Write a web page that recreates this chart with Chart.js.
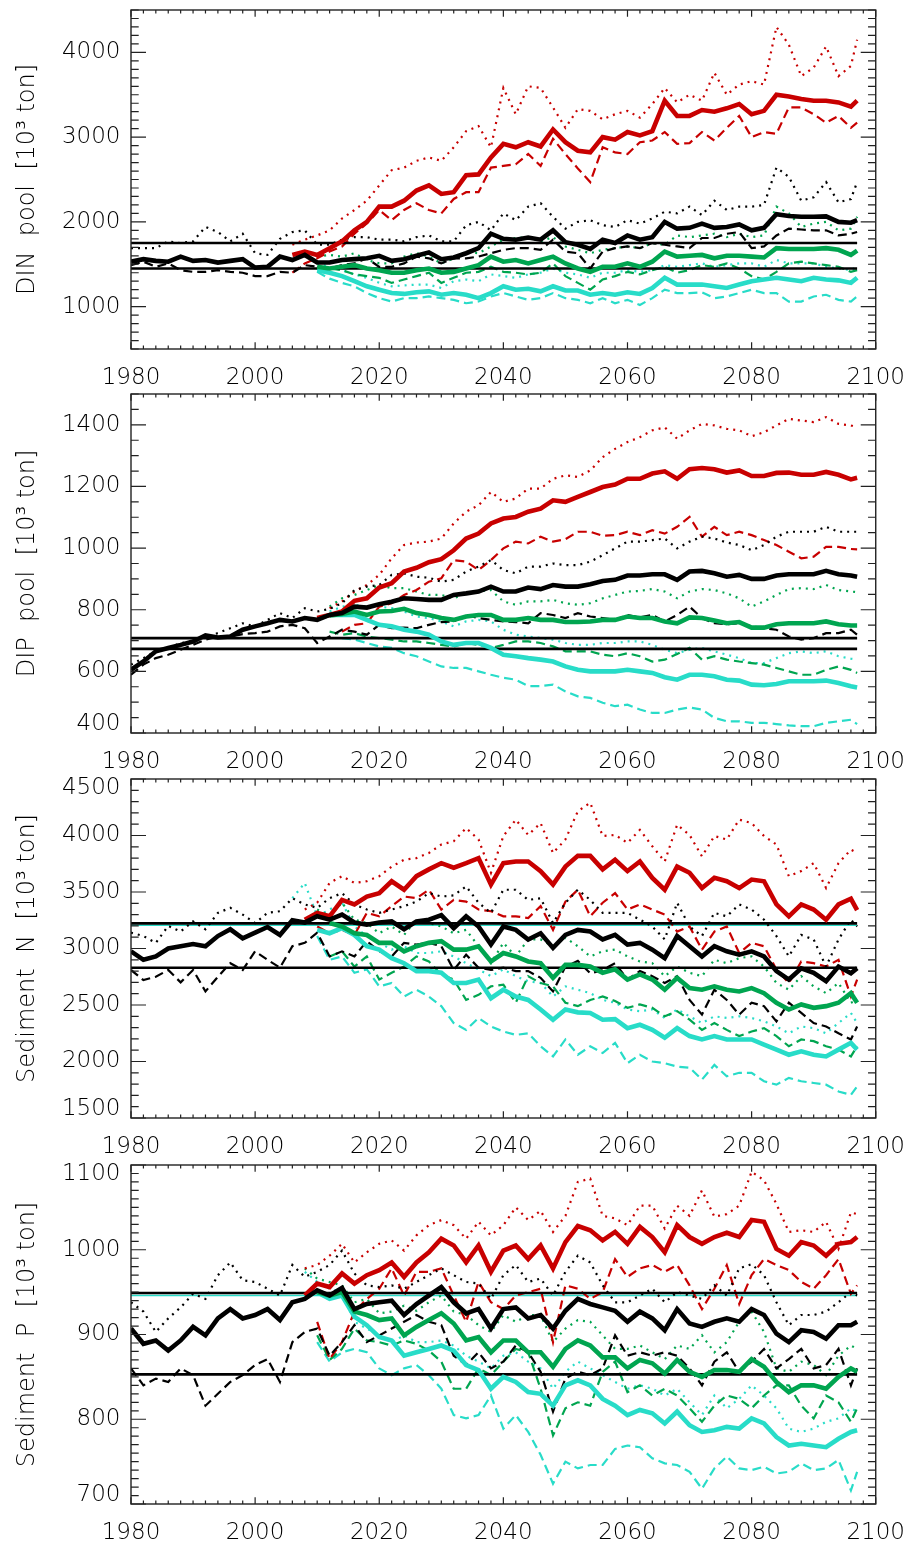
<!DOCTYPE html>
<html>
<head>
<meta charset="utf-8">
<script src="https://cdn.jsdelivr.net/npm/chart.js@4.4.1/dist/chart.umd.min.js"></script>
<style>
  body { margin: 0; background: #fff; width: 920px; height: 1548px; position: relative; overflow: hidden; }
  .panel { position: absolute; left: 0; width: 920px; height: 387px; }
</style>
</head>
<body>
<div class="panel" style="top:0px"><canvas id="din" width="920" height="387"></canvas></div>
<div class="panel" style="top:384px"><canvas id="dip" width="920" height="387"></canvas></div>
<div class="panel" style="top:769px"><canvas id="sedN" width="920" height="387"></canvas></div>
<div class="panel" style="top:1155px"><canvas id="sedP" width="920" height="387"></canvas></div>
<script>
// years for the full runs (black) and for the scenario runs (colours)
const years = [1980,1982,1984,1986,1988,1990,1992,1994,1996,1998,
  2000,2002,2004,2006,2008,2010,2012,2014,2016,2018,
  2020,2022,2024,2026,2028,2030,2032,2034,2036,2038,
  2040,2042,2044,2046,2048,2050,2052,2054,2056,2058,
  2060,2062,2064,2066,2068,2070,2072,2074,2076,2078,
  2080,2082,2084,2086,2088,2090,2092,2094,2096,2097];
const futYears = [2006,2008,2010,2012,2014,2016,2018,2020,2022,2024,2026,2028,2030,2032,
  2034,2036,2038,2040,2042,2044,2046,2048,2050,2052,2054,2056,2058,2060,
  2062,2064,2066,2068,2070,2072,2074,2076,2078,2080,2082,2084,2086,2088,
  2090,2092,2094,2096,2097];

// ---- DIN pool ----
const dinTicks = [1000, 2000, 3000, 4000];
const dinRefs = [1750, 1450];
const dinBlackSolid = [1530,1560,1540,1530,1590,1540,1550,1520,1540,1560,
  1460,1470,1590,1550,1610,1520,1520,1550,1560,1570,
  1600,1540,1560,1600,1640,1560,1580,1630,1690,1860,
  1800,1790,1815,1790,1900,1760,1730,1680,1790,1750,
  1840,1790,1820,2000,1920,1930,1980,1930,1940,1970,
  1900,1930,2090,2070,2060,2060,2065,2000,1990,2020];
const dinBlackDash = [1490,1530,1470,1510,1430,1410,1410,1430,1410,1400,
  1360,1360,1410,1400,1490,1470,1450,1490,1510,1570,
  1470,1470,1510,1590,1570,1510,1570,1570,1590,1630,
  1670,1690,1690,1670,1790,1650,1630,1450,1650,1690,
  1710,1690,1750,1730,1710,1690,1810,1810,1860,1880,
  1690,1710,1840,1920,1910,1900,1900,1840,1860,1880];
const dinBlackDot = [1690,1690,1690,1770,1750,1770,1940,1880,1770,1860,
  1630,1610,1800,1880,1900,1730,1730,1790,1820,1820,
  1790,1790,1770,1820,1840,1770,1770,1960,2000,1900,
  2100,2020,2180,2220,2060,1920,2000,2020,1960,1940,
  2020,1980,2040,2120,2100,2180,2080,2250,2140,2180,
  2180,2200,2640,2530,2250,2290,2470,2230,2270,2470];
const dinRedSolid = [1610,1650,1610,1690,1770,1900,2000,2180,2180,2250,2370,2430,2330,2350,
  2550,2560,2760,2920,2880,2940,2890,3090,2940,2840,2820,3000,2970,3060,
  3020,3070,3430,3250,3250,3320,3300,3340,3390,3270,3310,3500,3480,3450,
  3430,3430,3410,3360,3430];
const dinRedDash = [1400,1510,1570,1650,1710,1860,1980,2140,2020,2140,2220,2140,2100,2270,
  2350,2350,2640,2660,2680,2800,2660,2980,2800,2630,2470,2880,2820,2800,
  2940,2960,3060,2920,2930,3060,2960,3110,3250,3000,3060,3040,3350,3350,
  3270,3170,3250,3110,3170];
const dinRedDot = [1730,1790,1840,1900,2040,2140,2250,2430,2610,2640,2720,2760,2720,2880,
  3070,3130,2880,3580,3270,3600,3580,3350,3110,3330,3310,3210,3270,3310,
  3230,3390,3580,3410,3500,3430,3760,3500,3620,3660,3620,4300,4090,3720,
  3820,4070,3720,3840,4150];
const dinGreenSolid = [null,null,1470,1450,1470,1490,1450,1430,1400,1400,1430,1450,1400,1410,
  1450,1490,1590,1530,1550,1510,1550,1590,1510,1450,1410,1470,1470,1510,
  1470,1530,1650,1590,1600,1610,1570,1600,1600,1590,1580,1690,1680,1680,
  1680,1690,1670,1610,1660];
const dinGreenDash = [null,null,1470,1450,1430,1380,1360,1340,1280,1320,1360,1400,1280,1340,
  1400,1410,1470,1410,1400,1380,1400,1510,1360,1280,1200,1320,1360,1410,
  1380,1430,1470,1400,1430,1490,1470,1510,1450,1360,1320,1410,1510,1530,
  1510,1490,1470,1410,1430];
const dinGreenDot = [null,null,1590,1610,1590,1630,1550,1510,1510,1590,1630,1590,1510,1570,
  1650,1630,1710,1790,1810,1820,1770,1820,1710,1670,1630,1670,1690,1710,
  1690,1750,1730,1840,1820,1840,1860,1820,1860,1820,1840,2180,2100,1940,
  1980,2000,1900,1920,2060];
const dinCyanSolid = [null,null,1430,1400,1360,1300,1240,1200,1160,1150,1170,1180,1140,1160,
  1140,1100,1160,1240,1200,1210,1180,1240,1190,1190,1140,1160,1140,1170,
  1150,1220,1340,1260,1260,1260,1240,1220,1260,1300,1320,1340,1320,1300,
  1340,1320,1310,1280,1340];
const dinCyanDash = [null,null,1410,1330,1280,1240,1160,1100,1060,1100,1100,1120,1100,1080,
  1040,1060,1120,1160,1120,1080,1100,1160,1100,1080,1040,1100,1040,1080,
  1020,1100,1200,1160,1160,1170,1100,1120,1160,1200,1160,1160,1060,1060,
  1120,1140,1080,1060,1120];
const dinCyanDot = [null,null,1510,1470,1430,1380,1340,1280,1240,1250,1260,1260,1220,1300,
  1320,1300,1380,1360,1340,1380,1400,1450,1400,1380,1340,1400,1400,1430,
  1410,1430,1490,1470,1490,1510,1470,1490,1510,1510,1470,1550,1510,1510,
  1510,1470,1450,1430,1470];

// ---- DIP pool ----
const dipTicks = [400, 600, 800, 1000, 1200, 1400];
const dipRefs = [708, 673];
const dipBlackSolid = [605,632,665,676,686,697,717,710,713,735,
  746,756,767,762,773,767,783,789,810,807,
  818,826,837,835,832,832,848,853,859,875,
  859,859,872,867,880,875,875,883,893,897,
  911,911,915,915,897,924,926,918,907,913,
  900,900,911,915,915,915,926,915,911,907];
const dipBlackDash = [589,622,643,654,670,686,703,713,713,721,
  724,729,746,751,740,692,713,735,729,719,
  751,740,742,740,751,760,762,783,773,767,
  762,760,756,789,783,773,789,778,773,767,
  783,775,783,762,783,810,773,756,753,756,
  746,740,735,713,703,708,724,724,735,719];
const dipBlackDot = [622,643,665,676,692,697,713,724,740,756,
  746,767,789,773,805,794,803,821,864,875,
  880,913,918,907,904,891,897,924,940,961,
  929,918,940,940,950,945,945,956,977,999,
  1021,1021,1026,1031,999,1021,1037,1031,1018,1010,
  993,1010,1037,1053,1053,1053,1069,1053,1053,1053];
const dipRedSolid = [null,null,773,783,794,829,837,872,886,924,936,954,964,993,
  1031,1047,1080,1096,1101,1118,1128,1155,1150,1166,1182,1198,1206,1225,
  1225,1242,1249,1225,1256,1260,1256,1245,1252,1234,1234,1244,1245,1238,
  1238,1247,1238,1223,1228];
const dipRedDash = [null,null,null,null,729,751,756,810,821,848,864,891,902,961,
  956,929,961,999,1021,1015,1037,1021,1029,1053,1053,1040,1042,1053,
  1042,1058,1047,1069,1101,1037,1069,1042,1053,1042,1026,1010,988,967,
  972,1004,1004,997,996];
const dipRedDot = [null,null,null,805,827,859,880,913,967,1010,1018,1021,1031,1080,
  1118,1139,1182,1150,1161,1193,1193,1225,1236,1231,1252,1295,1322,1344,
  1360,1382,1392,1355,1382,1403,1398,1387,1382,1363,1376,1398,1419,1414,
  1409,1425,1403,1398,1392];
const dipGreenSolid = [null,null,null,781,786,794,783,794,796,803,789,783,773,767,
  778,783,783,767,767,773,767,767,760,760,762,767,767,778,
  773,773,762,756,775,773,765,756,760,742,742,753,756,756,
  756,762,753,749,749];
const dipGreenDash = [null,null,null,729,719,724,713,708,703,697,697,692,686,681,
  692,686,676,686,697,697,692,681,665,665,665,654,649,659,
  649,632,638,656,676,638,649,638,632,627,622,611,600,589,
  589,605,616,605,595];
const dipGreenDot = [null,null,null,810,837,848,864,880,870,870,859,848,848,837,
  853,859,864,827,816,827,827,832,821,816,821,837,848,859,
  861,867,859,837,859,867,864,853,837,810,827,848,867,870,
  867,880,864,859,857];
const dipCyanSolid = [null,null,null,783,783,783,767,751,746,735,729,719,697,686,
  692,692,676,654,649,643,638,632,616,605,600,600,600,605,
  600,595,581,573,589,589,584,573,570,557,555,559,568,568,
  568,570,562,552,548];
const dipCyanDash = [null,null,null,null,708,703,692,681,676,659,649,632,616,611,
  611,600,589,579,573,552,552,557,535,519,514,498,487,492,
  476,465,465,476,483,476,449,438,438,433,433,429,425,422,
  422,433,438,443,429];
const dipCyanDot = [null,null,null,794,810,816,810,810,805,794,778,773,762,746,
  762,767,762,735,719,713,708,703,692,686,686,692,692,697,
  697,686,670,659,670,676,665,654,643,627,627,643,659,665,
  659,665,649,641,638];

// ---- Sediment N ----
const sedNTicks = [1500, 2000, 2500, 3000, 3500, 4000, 4500];
const sedNRefs = [3222, 2830];
const sedNRefCyan = 3205;
const sedNBlackSolid = [2975,2900,2930,3000,3020,3040,3020,3110,3170,3090,
  3140,3190,3120,3250,3230,3285,3255,3300,3230,3210,
  3230,3240,3170,3240,3255,3295,3180,3285,3195,3035,
  3195,3165,3080,3135,3005,3120,3165,3150,3080,3120,
  3035,3050,2990,2915,3110,3020,2930,3020,2975,2945,
  2975,2930,2800,2725,2825,2785,2710,2840,2780,2825];
const sedNBlackDash = [2810,2720,2750,2810,2700,2810,2620,2750,2870,2810,
  2975,2900,2830,3020,3050,3140,2930,2975,2930,3065,
  2975,2930,3050,3035,3050,3020,2810,2945,2830,2810,
  2830,2800,2800,2740,2620,2840,2890,2780,2810,2870,
  2725,2800,2755,2695,2755,2545,2415,2635,2545,2415,
  2520,2490,2355,2520,2430,2340,2310,2250,2195,2310];
const sedNBlackDot = [3140,3110,3050,3200,3150,3240,3170,3315,3360,3300,
  3225,3315,3330,3445,3390,3360,3445,3490,3390,3345,
  3315,3345,3375,3415,3490,3460,3470,3550,3405,3315,
  3520,3520,3430,3445,3225,3405,3520,3430,3315,3315,
  3315,3255,3195,3080,3405,3195,3110,3315,3285,3390,
  3345,3255,3110,2930,3120,3080,2840,3080,3255,3195];
const sedNRedSolid = [null,3255,3315,3285,3430,3390,3460,3490,3595,3520,3640,3700,3755,3715,
  3755,3800,3565,3755,3770,3770,3685,3565,3725,3820,3820,3700,3785,3685,
  3770,3625,3520,3725,3670,3535,3625,3595,3535,3610,3595,3390,3285,3390,
  3345,3255,3390,3440,3340];
const sedNRedDash = [null,null,3195,3135,3165,3120,3315,3285,3375,3460,3445,3520,3345,3430,
  3415,3345,3330,3285,3285,3270,3375,3165,3415,3520,3285,3405,3490,3345,
  3390,3345,3300,3150,3195,2990,3150,3195,2960,3050,3020,2815,2695,2885,
  2870,2840,2900,2575,2725];
const sedNRedDot = [null,3345,3405,3580,3640,3580,3595,3640,3725,3785,3800,3845,3920,3950,
  4065,3965,3670,3995,4140,4005,4110,3845,3965,4215,4290,3995,4005,3935,
  4050,3905,3770,4095,4005,3815,3995,3965,4140,4110,3995,3920,3640,3685,
  3755,3535,3755,3875,3845];
const sedNGreenSolid = [null,null,null,3225,3195,3135,3120,3050,3050,2975,3020,3050,3065,2990,
  2990,3020,2885,2960,2930,2885,2870,2740,2855,2855,2840,2785,2815,2725,
  2770,2725,2635,2740,2650,2635,2665,2635,2620,2650,2605,2520,2460,2505,
  2475,2490,2520,2605,2520];
const sedNGreenDash = [null,null,null,2930,2975,2840,2930,2725,2785,2840,2930,2885,2770,2725,
  2545,2590,2665,2680,2520,2755,2695,2665,2520,2490,2545,2575,2535,2475,
  2505,2475,2400,2445,2370,2280,2340,2280,2225,2265,2295,2225,2135,2195,
  2180,2135,2105,2045,2135];
const sedNGreenDot = [null,null,3345,3285,3405,3255,3225,3135,3195,3120,3255,3225,3195,3135,
  3165,3020,2870,3050,2930,3080,3080,3020,3095,3020,2930,2975,2990,2930,
  2885,2870,2755,2840,2785,2755,2900,2870,2915,2930,2840,2695,2635,2755,
  2665,2605,2695,2520,2545];
const sedNCyanSolid = [null,null,3165,3135,3180,3120,3020,2990,2915,2870,2800,2800,2785,2695,
  2695,2725,2560,2635,2575,2545,2460,2370,2460,2435,2430,2370,2375,2295,
  2325,2280,2210,2295,2225,2195,2225,2195,2195,2195,2150,2105,2060,2090,
  2060,2045,2105,2165,2105];
const sedNCyanDash = [null,null,3110,2900,2930,2785,2815,2665,2695,2575,2635,2575,2490,2340,
  2280,2385,2310,2265,2235,2250,2135,2045,2195,2060,2135,2075,2165,1985,
  2060,2000,1985,1955,1945,1840,1970,1870,1900,1900,1825,1795,1855,1825,
  1810,1795,1735,1705,1780];
const sedNCyanDot = [3445,3580,3285,3345,3405,3195,3110,3050,2990,3020,2960,2960,2975,2930,
  2870,2815,2755,2815,2755,2710,2695,2575,2665,2635,2605,2545,2520,2460,
  2445,2460,2385,2460,2400,2340,2400,2385,2400,2385,2355,2310,2250,2310,
  2295,2250,2340,2430,2340];

// ---- Sediment P ----
const sedPTicks = [700, 800, 900, 1000, 1100];
const sedPRefs = [949, 853];
const sedPRefCyan = 946;
const sedPBlackSolid = [907,889,893,881,893,909,899,919,930,919,
  923,930,917,938,942,952,946,955,930,936,
  938,940,923,936,946,956,938,925,930,907,
  930,932,919,923,907,928,942,936,932,928,
  915,927,919,905,930,913,909,915,919,915,
  930,923,901,891,905,903,895,911,911,915];
const sedPBlackDash = [860,840,848,844,860,852,816,830,844,852,
  864,871,844,891,903,907,875,891,911,891,
  899,907,915,923,915,911,875,864,879,860,
  868,887,879,856,809,848,856,852,860,899,
  875,879,875,879,875,860,840,868,879,856,
  868,883,860,871,883,860,864,883,840,860];
const sedPBlackDot = [938,927,903,919,932,948,942,970,985,964,
  962,954,946,982,968,974,982,999,972,958,
  956,958,954,962,970,978,970,962,960,942,
  970,982,962,966,946,974,993,985,958,938,
  938,946,954,938,950,946,942,958,946,978,
  983,970,938,911,923,923,927,938,950,946];
const sedPRedSolid = [null,946,960,956,972,960,970,976,985,968,985,997,1013,1005,
  985,1005,974,999,1005,989,1005,978,1009,1028,1023,1011,1021,1007,
  1027,1015,997,1029,1015,1007,1015,1020,1015,1035,1033,1001,993,1009,
  1005,993,1007,1009,1015];
const sedPRedDash = [null,null,915,871,891,927,942,954,978,946,974,974,978,946,
  915,962,938,930,946,950,954,891,958,954,942,950,989,968,
  978,982,974,982,958,930,954,982,936,970,989,982,976,962,
  954,970,989,948,958];
const sedPRedDot = [null,978,982,993,1007,985,997,1007,1011,999,1017,1029,1035,1029,
  1013,1033,1017,1029,1050,1035,1046,1021,1040,1080,1084,1040,1037,1029,
  1052,1052,1025,1052,1040,1070,1039,1042,1052,1092,1082,1054,1021,1023,
  1021,1033,1001,1044,1042];
const sedPGreenSolid = [null,null,950,946,950,927,923,917,919,899,909,917,925,913,
  893,897,879,893,893,879,879,862,883,893,887,873,873,860,
  870,866,854,870,856,850,858,858,856,871,862,844,832,840,
  840,836,850,860,856];
const sedPGreenDash = [null,null,899,870,883,907,893,891,887,893,889,881,868,836,
  836,860,852,868,883,879,836,781,813,820,816,856,868,832,
  840,828,836,828,813,797,816,828,824,813,828,840,840,816,
  801,828,820,797,813];
const sedPGreenDot = [null,978,966,962,958,938,942,925,927,934,928,938,946,927,
  923,911,903,923,915,923,923,891,907,917,915,899,883,883,
  887,879,871,887,883,899,879,891,915,927,903,860,856,868,
  864,852,875,887,883];
const sedPCyanSolid = [null,null,950,942,946,921,911,897,893,875,879,883,887,881,
  864,858,836,850,844,832,830,816,840,846,840,824,816,805,
  811,807,795,809,793,785,787,791,789,801,795,779,769,771,
  769,767,777,785,787];
const sedPCyanDash = [null,null,891,868,879,883,879,860,852,860,864,852,836,805,
  801,805,828,789,805,785,758,724,750,742,746,746,765,769,
  767,754,748,746,738,718,742,756,742,740,744,736,738,748,
  740,742,752,716,738];
const sedPCyanDot = [null,974,962,954,950,915,907,899,891,899,891,891,893,887,
  875,868,860,875,879,868,860,836,856,868,860,852,844,836,
  840,836,828,836,820,805,828,813,824,840,828,813,789,785,
  789,797,801,813,809];

const FONT = '"DejaVu Sans", "Liberation Sans", sans-serif';
const RED = '#c80000', BLACK = '#000000', GREEN = '#00a550', CYAN = '#28dcc8';

function series(xs, ys, color, style) {
  return {
    data: xs.map((x, i) => ({ x, y: ys[i] })),
    borderColor: color,
    borderWidth: style === 'solid' ? 4.6 : 2.2,
    borderDash: style === 'dash' ? [9, 5] : style === 'dot' ? [2, 5] : [],
    pointRadius: 0,
    tension: 0,
    fill: false,
    spanGaps: false
  };
}

function refLine(v, color, width) {
  return {
    data: [{ x: 1980, y: v }, { x: 2097, y: v }],
    borderColor: color,
    borderWidth: width,
    pointRadius: 0,
    fill: false
  };
}

// frame, inward ticks on all four sides, y labels kept inside the axis range
const frame = {
  id: 'frame',
  afterDatasetsDraw(chart, args, opts) {
    const { ctx, chartArea: a, scales: { x, y } } = chart;
    ctx.save();
    ctx.strokeStyle = '#222';
    ctx.lineWidth = 1.2;
    ctx.beginPath();
    for (let v = 1980; v <= 2100; v += 2) {
      const px = x.getPixelForValue(v);
      const len = v % 20 === 0 ? 6.8 : 3.4;
      ctx.moveTo(px, a.bottom); ctx.lineTo(px, a.bottom - len);
      ctx.moveTo(px, a.top); ctx.lineTo(px, a.top + len);
    }
    for (let v = opts.min; v <= opts.max + 1e-6; v += opts.minor) {
      const py = y.getPixelForValue(v);
      const q = v / opts.major;
      const len = Math.abs(q - Math.round(q)) < 1e-6 ? 15 : 7.7;
      ctx.moveTo(a.left, py); ctx.lineTo(a.left + len, py);
      ctx.moveTo(a.right, py); ctx.lineTo(a.right - len, py);
    }
    ctx.stroke();
    ctx.lineWidth = 1.4;
    ctx.strokeRect(a.left, a.top, a.right - a.left, a.bottom - a.top);

    ctx.fillStyle = '#000';
    ctx.font = '300 23px ' + FONT;
    ctx.textAlign = 'right';
    ctx.textBaseline = 'middle';
    opts.labels.forEach(v => {
      const py = Math.min(Math.max(y.getPixelForValue(v), a.top + 9), a.bottom - 8.5);
      ctx.fillText(String(v), a.left - 10.5, py);
    });
    ctx.restore();
  }
};

const panels = [
  { id: 'din', title: 'DIN  pool  [10³ ton]', min: 500, max: 4500, major: 1000, minor: 100,
    labels: dinTicks, refs: dinRefs, refCyan: null,
    black: [dinBlackSolid, dinBlackDash, dinBlackDot], red: [dinRedSolid, dinRedDash, dinRedDot],
    green: [dinGreenSolid, dinGreenDash, dinGreenDot], cyan: [dinCyanSolid, dinCyanDash, dinCyanDot] },
  { id: 'dip', title: 'DIP  pool  [10³ ton]', min: 400, max: 1500, major: 200, minor: 50,
    labels: dipTicks, refs: dipRefs, refCyan: null,
    black: [dipBlackSolid, dipBlackDash, dipBlackDot], red: [dipRedSolid, dipRedDash, dipRedDot],
    green: [dipGreenSolid, dipGreenDash, dipGreenDot], cyan: [dipCyanSolid, dipCyanDash, dipCyanDot] },
  { id: 'sedN', title: 'Sediment  N  [10³ ton]', min: 1500, max: 4500, major: 500, minor: 100,
    labels: sedNTicks, refs: sedNRefs, refCyan: sedNRefCyan,
    black: [sedNBlackSolid, sedNBlackDash, sedNBlackDot], red: [sedNRedSolid, sedNRedDash, sedNRedDot],
    green: [sedNGreenSolid, sedNGreenDash, sedNGreenDot], cyan: [sedNCyanSolid, sedNCyanDash, sedNCyanDot] },
  { id: 'sedP', title: 'Sediment  P  [10³ ton]', min: 700, max: 1100, major: 100, minor: 10,
    labels: sedPTicks, refs: sedPRefs, refCyan: sedPRefCyan,
    black: [sedPBlackSolid, sedPBlackDash, sedPBlackDot], red: [sedPRedSolid, sedPRedDash, sedPRedDot],
    green: [sedPGreenSolid, sedPGreenDash, sedPGreenDot], cyan: [sedPCyanSolid, sedPCyanDash, sedPCyanDot] }
];

panels.forEach(p => {
  // first dataset is drawn on top
  const datasets = [
    series(years, p.black[0], BLACK, 'solid'),
    series(futYears, p.red[0], RED, 'solid'),
    series(futYears, p.green[0], GREEN, 'solid'),
    series(futYears, p.cyan[0], CYAN, 'solid'),
    ...p.refs.map(v => refLine(v, BLACK, 2.6)),
    series(years, p.black[1], BLACK, 'dash'),
    series(years, p.black[2], BLACK, 'dot'),
    series(futYears, p.red[1], RED, 'dash'),
    series(futYears, p.red[2], RED, 'dot'),
    series(futYears, p.green[1], GREEN, 'dash'),
    series(futYears, p.green[2], GREEN, 'dot'),
    series(futYears, p.cyan[1], CYAN, 'dash'),
    series(futYears, p.cyan[2], CYAN, 'dot')
  ];
  if (p.refCyan !== null) datasets.push(refLine(p.refCyan, CYAN, 1.5));

  new Chart(document.getElementById(p.id), {
    type: 'line',
    data: { datasets },
    options: {
      responsive: false,
      animation: false,
      events: [],
      layout: { padding: { top: 10, right: 34, left: 0, bottom: 0 } },
      plugins: {
        legend: { display: false },
        tooltip: { enabled: false },
        frame: { min: p.min, max: p.max, major: p.major, minor: p.minor, labels: p.labels }
      },
      scales: {
        x: {
          type: 'linear', min: 1980, max: 2100,
          afterFit: s => { s.height = 38; },
          grid: { display: false, drawTicks: false },
          border: { display: false },
          ticks: { stepSize: 20, autoSkip: false, maxRotation: 0, padding: 15, color: '#000',
            font: { family: FONT, size: 23, weight: 300 }, callback: v => String(v) }
        },
        y: {
          min: p.min, max: p.max,
          afterFit: s => { s.width = 131; },
          grid: { display: false, drawTicks: false },
          border: { display: false },
          ticks: { display: false },
          title: { display: true, text: p.title, color: '#000', padding: { top: 13, bottom: 0 },
            font: { family: FONT, size: 24, weight: 300 } }
        }
      }
    },
    plugins: [frame]
  });
});
</script>
</body>
</html>
